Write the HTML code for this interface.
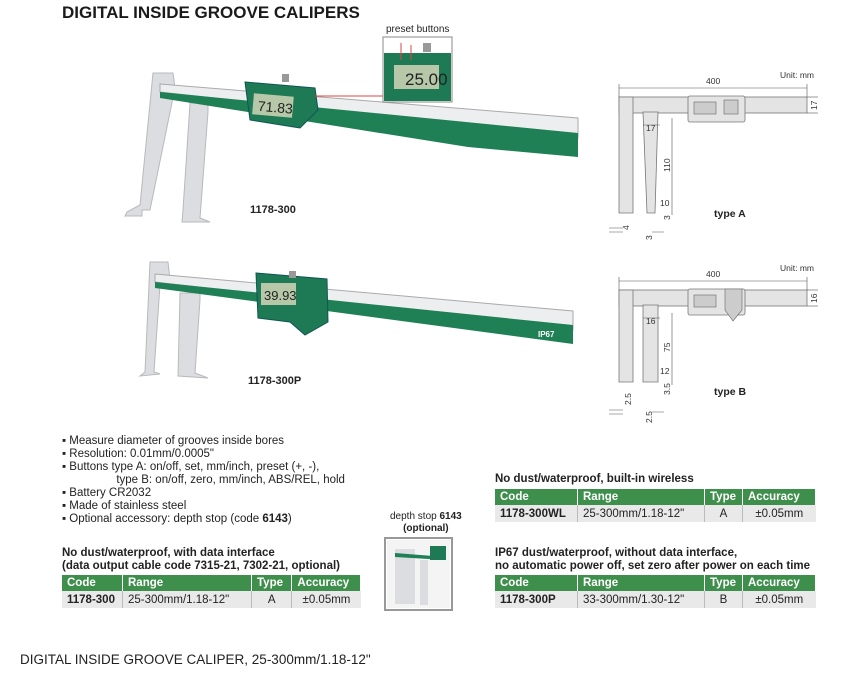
<!DOCTYPE html>
<html><head><meta charset="utf-8"><style>
body{margin:0;width:862px;height:687px;background:#fff;position:relative;overflow:hidden;font-family:"Liberation Sans",Arial,sans-serif;color:#222}
.a{position:absolute;white-space:nowrap}
.b{font-size:11.5px;line-height:13px}
table{position:absolute;border-collapse:collapse;font-size:11.5px}
th{background:#3f8f4c;color:#fff;text-align:left;font-weight:bold;height:16px;padding:0 5px;border-right:1px solid #fff}
td{background:#e9e9e9;height:17px;padding:0 5px;border-right:1px solid #bbb}
.t{font-size:11.5px;font-weight:bold;line-height:13px}
svg{position:absolute;left:0;top:0}
</style></head><body>
<svg width="862" height="687" font-family="Liberation Sans,Arial,sans-serif">
<!-- caliper 1 -->
<polygon points="153,73 173,73 175,88 150,210 142,210 142,216 125,216 127,212 140,205" fill="#dcdde0" stroke="#b8b9bd"/>
<polygon points="190,103 208,103 208,112 200,218 210,222 182,222 183,210" fill="#dcdde0" stroke="#b8b9bd"/>
<polygon points="160,84 578,118 578,138 160,92" fill="#eceef0" stroke="#aaa"/>
<polygon points="160,92 578,133 578,157 468,147 160,98" fill="#1f7f55"/>
<polygon points="245,82 315,88 318,110 300,128 250,120" fill="#1d7a54" stroke="#155"/>
<rect x="253" y="95" width="40" height="21" fill="#b6c8a8" transform="rotate(5 273 105)"/>
<text x="258" y="112" font-size="14" fill="#222" transform="rotate(5 273 105)">71.83</text>
<rect x="282" y="74" width="7" height="8" fill="#999"/>
<line x1="315" y1="96" x2="384" y2="96" stroke="#d44" stroke-width="1"/>
<rect x="383" y="37" width="69" height="65" fill="#fff" stroke="#888"/>
<rect x="384" y="53" width="67" height="48" fill="#1d7a54"/>
<rect x="394" y="65" width="45" height="24" fill="#b6c8a8"/>
<text x="405" y="85" font-size="17" fill="#222">25.00</text>
<line x1="401" y1="43" x2="401" y2="60" stroke="#d44"/><line x1="411" y1="45" x2="411" y2="60" stroke="#d44"/>
<rect x="423" y="43" width="8" height="9" fill="#999"/>
<!-- caliper 2 -->
<polygon points="150,262 168,262 170,280 160,285 154,372 160,374 140,376 145,372" fill="#dcdde0" stroke="#b8b9bd"/>
<polygon points="180,293 200,293 200,300 195,373 208,378 178,376" fill="#dcdde0" stroke="#b8b9bd"/>
<polygon points="155,274 573,311 573,330 155,282" fill="#eceef0" stroke="#aaa"/>
<polygon points="155,282 573,325 573,344 155,288" fill="#1f7f55"/>
<polygon points="256,273 327,279 328,322 305,335 290,322 258,318" fill="#1d7a54" stroke="#155"/>
<rect x="261" y="283" width="35" height="22" fill="#b6c8a8"/>
<text x="264" y="300" font-size="13" fill="#222">39.93</text>
<rect x="289" y="271" width="7" height="7" fill="#999"/>
<text x="538" y="337" font-size="8" fill="#fff" font-weight="bold">IP67</text>
<!-- type A drawing -->
<g fill="#e4e4e4" stroke="#777" stroke-width="0.8">
<rect x="619" y="97" width="188" height="16"/>
<polygon points="619,97 633,97 633,213 619,213"/>
<polygon points="643,112 658,112 655,213 647,213"/>
<rect x="688" y="96" width="57" height="26" rx="2"/>
<rect x="619" y="290" width="188" height="16"/>
<polygon points="619,290 633,290 633,382 619,382"/>
<polygon points="643,305 658,305 658,382 643,382"/>
<rect x="688" y="289" width="57" height="26" rx="2"/>
</g>
<rect x="694" y="102" width="22" height="12" fill="#ccc" stroke="#666" stroke-width=".6"/>
<rect x="724" y="100" width="14" height="14" fill="#ccc" stroke="#666" stroke-width=".6"/>
<rect x="694" y="295" width="22" height="12" fill="#ccc" stroke="#666" stroke-width=".6"/>
<polygon points="725,289 742,289 742,310 733,321 725,310" fill="#ccc" stroke="#666" stroke-width=".6"/>
<g stroke="#555" stroke-width=".6" fill="none">
<line x1="619" y1="88" x2="807" y2="88"/><line x1="619" y1="84" x2="619" y2="97"/><line x1="807" y1="84" x2="807" y2="97"/>
<line x1="807" y1="97" x2="818" y2="97"/><line x1="807" y1="113" x2="818" y2="113"/>
<line x1="672" y1="118" x2="672" y2="215"/><line x1="643" y1="125" x2="660" y2="125"/>
<line x1="619" y1="281" x2="807" y2="281"/><line x1="619" y1="277" x2="619" y2="290"/><line x1="807" y1="277" x2="807" y2="290"/>
<line x1="807" y1="290" x2="818" y2="290"/><line x1="807" y1="306" x2="818" y2="306"/>
<line x1="672" y1="313" x2="672" y2="385"/><line x1="643" y1="318" x2="660" y2="318"/>
<path d="M609,228h14M609,232h14M652,232h12"/><path d="M609,410h14M609,414h14M652,412h12"/>
</g>
<g font-size="8.5" fill="#333">
<text x="780" y="78">Unit: mm</text><text x="706" y="84">400</text>
<text x="646" y="131">17</text><text x="660" y="206">10</text>
<text x="780" y="271">Unit: mm</text><text x="706" y="277">400</text>
<text x="646" y="324">16</text><text x="660" y="374">12</text>
<text transform="translate(817,110) rotate(-90)">17</text>
<text transform="translate(670,172) rotate(-90)">110</text>
<text transform="translate(670,220) rotate(-90)">3</text>
<text transform="translate(629,230) rotate(-90)">4</text>
<text transform="translate(652,240) rotate(-90)">3</text>
<text transform="translate(817,303) rotate(-90)">16</text>
<text transform="translate(670,352) rotate(-90)">75</text>
<text transform="translate(670,395) rotate(-90)">3.5</text>
<text transform="translate(631,405) rotate(-90)">2.5</text>
<text transform="translate(652,423) rotate(-90)">2.5</text>
</g>
<text x="714" y="217" font-size="10.5" font-weight="bold" fill="#222">type A</text>
<text x="714" y="395" font-size="10.5" font-weight="bold" fill="#222">type B</text>
<!-- depth stop image -->
<rect x="385" y="538" width="67" height="72" fill="#fff" stroke="#999" stroke-width="2"/>
<rect x="387" y="540" width="63" height="68" fill="#f4f4f4"/>
<rect x="395" y="549" width="20" height="55" fill="#dcdde0"/><rect x="420" y="560" width="8" height="45" fill="#dcdde0"/>
<polygon points="395,553 446,557 446,560 395,557" fill="#1f7f55"/><rect x="430" y="546" width="16" height="14" fill="#1d7a54"/>
</svg>
<div class="a" style="left:62px;top:3px;font-size:17px;font-weight:bold;color:#1a1a1a">DIGITAL INSIDE GROOVE CALIPERS</div>
<div class="a" style="left:386px;top:24px;font-size:10px">preset buttons</div>
<div class="a" style="left:250px;top:204px;font-size:11px;font-weight:bold">1178-300</div>
<div class="a" style="left:248px;top:375px;font-size:11px;font-weight:bold">1178-300P</div>
<div class="a b" style="left:62px;top:435px">▪ Measure diameter of grooves inside bores<br>▪ Resolution: 0.01mm/0.0005"<br>▪ Buttons type A: on/off, set, mm/inch, preset (+, -),<br>&nbsp;&nbsp;&nbsp;&nbsp;&nbsp;&nbsp;&nbsp;&nbsp;&nbsp;&nbsp;&nbsp;&nbsp;&nbsp;&nbsp;&nbsp;&nbsp;&nbsp;type B: on/off, zero, mm/inch, ABS/REL, hold<br>▪ Battery CR2032<br>▪ Made of stainless steel<br>▪ Optional accessory: depth stop (code <b>6143</b>)</div>
<div class="a" style="left:390px;top:511px;font-size:10px;text-align:center;line-height:12px">depth stop <b>6143</b><br><b>(optional)</b></div>
<div class="a t" style="left:62px;top:547px">No dust/waterproof, with data interface<br>(data output cable code 7315-21, 7302-21, optional)</div>
<table style="left:62px;top:575px;width:299px"><tr><th style="width:50px">Code</th><th style="width:118px">Range</th><th>Type</th><th>Accuracy</th></tr>
<tr><td><b>1178-300</b></td><td>25-300mm/1.18-12"</td><td style="text-align:center">A</td><td style="text-align:center;border:0">±0.05mm</td></tr></table>
<div class="a t" style="left:495px;top:473px">No dust/waterproof, built-in wireless</div>
<table style="left:495px;top:489px;width:321px"><tr><th style="width:72px">Code</th><th style="width:116px">Range</th><th style="width:27px">Type</th><th>Accuracy</th></tr>
<tr><td><b>1178-300WL</b></td><td>25-300mm/1.18-12"</td><td style="text-align:center">A</td><td style="text-align:center;border:0">±0.05mm</td></tr></table>
<div class="a t" style="left:495px;top:547px">IP67 dust/waterproof, without data interface,<br>no automatic power off, set zero after power on each time</div>
<table style="left:495px;top:575px;width:321px"><tr><th style="width:72px">Code</th><th style="width:116px">Range</th><th style="width:27px">Type</th><th>Accuracy</th></tr>
<tr><td><b>1178-300P</b></td><td>33-300mm/1.30-12"</td><td style="text-align:center">B</td><td style="text-align:center;border:0">±0.05mm</td></tr></table>
<div class="a" style="left:20px;top:652px;font-size:13.5px;color:#222">DIGITAL INSIDE GROOVE CALIPER, 25-300mm/1.18-12"</div>
</body></html>
